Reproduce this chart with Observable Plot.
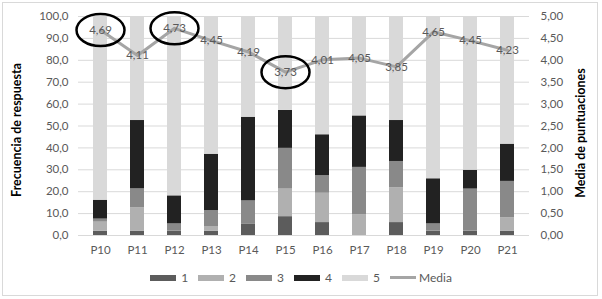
<!DOCTYPE html>
<html><head><meta charset="utf-8">
<script src="https://cdn.jsdelivr.net/npm/d3@7"></script>
<script src="https://cdn.jsdelivr.net/npm/@observablehq/plot@0.6"></script>
<style>
body{margin:0;background:#fff;font-family:Lato,"Open Sans",sans-serif;}
#wrap{position:relative;width:602px;height:299px;overflow:hidden;background:#fff;}
#frame{position:absolute;left:2px;top:2px;width:596px;height:294px;border:1px solid #d9d9d9;box-sizing:border-box;pointer-events:none;}
#chart{position:absolute;left:0;top:0;}
.ytitle{position:absolute;transform:translate(-50%,-50%) rotate(-90deg);white-space:nowrap;font-weight:bold;font-size:12.5px;color:#000;}
#legend{position:absolute;left:0;top:270px;width:602px;display:flex;justify-content:center;align-items:center;font-size:12px;color:#595959;}
.item{display:flex;align-items:center;margin:0 5px;}
.sw{width:26px;height:6px;margin-right:5px;}
.ln{width:26px;height:3px;margin-right:3px;}
</style>
</head><body>
<div id="wrap">
  <div id="chart"></div>
  <div class="ytitle" id="tl" style="left:16px;top:130px;"></div>
  <div class="ytitle" id="tr" style="left:580px;top:133px;"></div>
  <div id="legend"></div>
  <div id="frame"></div>
</div>
<script>
const categories = ["P10","P11","P12","P13","P14","P15","P16","P17","P18","P19","P20","P21"];
const levels = ["1","2","3","4","5"];
const freq1 = [2.0, 2.0, 2.0, 2.0, 5.3, 8.6, 5.9, 0.0, 5.9, 2.0, 2.0, 2.0];
const freq2 = [4.1, 10.6, 0.0, 2.1, 0.0, 12.6, 13.4, 9.4, 15.9, 0.0, 0.0, 6.1];
const freq3 = [1.4, 8.7, 3.3, 7.3, 10.5, 18.6, 8.0, 21.7, 12.0, 3.3, 19.2, 16.6];
const freq4 = [8.6, 31.2, 12.8, 25.7, 38.2, 17.3, 18.7, 23.5, 18.7, 20.6, 8.6, 17.0];
const freq5 = [83.9, 47.5, 81.9, 62.9, 46.0, 42.9, 54.0, 45.4, 47.5, 74.1, 70.2, 58.3];
const media = [4.69, 4.11, 4.73, 4.45, 4.19, 3.73, 4.01, 4.05, 3.85, 4.65, 4.45, 4.23];
const highlighted = ["P10","P12","P15"];
const levelColors = ["#5c5c5c","#b0b0b0","#898989","#222222","#d9d9d9"];
const lineColor = "#a5a5a5";
const leftTicks = [0,10,20,30,40,50,60,70,80,90,100];
const rightTicks = [0,0.5,1,1.5,2,2.5,3,3.5,4,4.5,5];
const leftTitle = "Frecuencia de respuesta";
const rightTitle = "Media de puntuaciones";
const mediaLabel = "Media";

const ratio = 20; // right axis (0-5) onto left axis (0-100)
const series = [freq1,freq2,freq3,freq4,freq5];
const rows = categories.flatMap((c,i)=>levels.map((l,j)=>({cat:c, level:l, value:series[j][i]})));
const mediaRows = categories.map((c,i)=>({cat:c, media:media[i]}));
const fmt2 = v => v.toFixed(2).replace(".", ",");
const fmt1 = v => v.toFixed(1).replace(".", ",");

const ellipse = {draw(ctx){
  const rx=24, ry=16, k=0.5523;
  ctx.moveTo(rx,0);
  ctx.bezierCurveTo(rx, ry*k, rx*k, ry, 0, ry);
  ctx.bezierCurveTo(-rx*k, ry, -rx, ry*k, -rx, 0);
  ctx.bezierCurveTo(-rx, -ry*k, -rx*k, -ry, 0, -ry);
  ctx.bezierCurveTo(rx*k, -ry, rx, -ry*k, rx, 0);
  ctx.closePath();
}};

const plot = Plot.plot({
  width:602, height:265,
  marginLeft:78, marginRight:73, marginTop:16, marginBottom:30,
  style:{fontFamily:"Lato, 'Open Sans', sans-serif", fontSize:"11.5px", color:"#595959", background:"transparent"},
  x:{domain:categories, paddingInner:0.627, paddingOuter:0.3135, label:null},
  y:{domain:[0,100], label:null},
  color:{domain:levels, range:levelColors},
  marks:[
    Plot.gridY(leftTicks, {stroke:"#d9d9d9", strokeOpacity:1}),
    Plot.axisY(leftTicks, {anchor:"left", tickSize:0, tickPadding:10, tickFormat:fmt1, label:null}),
    Plot.axisY(rightTicks.map(v=>v*ratio), {anchor:"right", tickSize:0, tickPadding:11, tickFormat:d=>fmt2(d/ratio), label:null}),
    Plot.axisX({tickSize:0, tickPadding:10, label:null}),
    Plot.barY(rows, {x:"cat", y:"value", fill:"level"}),
    Plot.line(mediaRows, {x:"cat", y:d=>d.media*ratio, stroke:lineColor, strokeWidth:3}),
    Plot.text(mediaRows, {x:"cat", y:d=>d.media*ratio, text:d=>fmt2(d.media), fill:"#595959", fontSize:11.5}),
    Plot.dot(mediaRows.filter(d=>highlighted.includes(d.cat)), {x:"cat", y:d=>d.media*ratio, symbol:ellipse, stroke:"#000", strokeWidth:2.5, fill:"none"})
  ]
});
document.getElementById("chart").appendChild(plot);
document.getElementById("tl").textContent = leftTitle;
document.getElementById("tr").textContent = rightTitle;

const legend = document.getElementById("legend");
levels.forEach((l,j)=>{
  const it = document.createElement("div"); it.className="item";
  it.innerHTML = `<div class="sw" style="background:${levelColors[j]}"></div><span>${l}</span>`;
  legend.appendChild(it);
});
const it = document.createElement("div"); it.className="item";
it.innerHTML = `<div class="ln" style="background:${lineColor}"></div><span>${mediaLabel}</span>`;
legend.appendChild(it);
</script>
</body></html>
